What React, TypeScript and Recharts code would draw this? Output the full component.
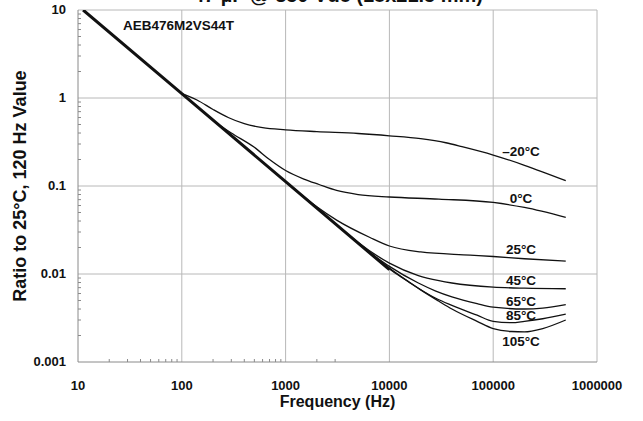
import { LineChart, Line, XAxis, YAxis, ReferenceLine } from 'recharts';

// Impedance ratio vs frequency, AEB476M2VS44T
const xMajor = [10, 100, 1000, 10000, 100000, 1000000];
const xMinor = [20, 30, 40, 50, 60, 70, 80, 90, 200, 300, 400, 500, 600, 700, 800, 900, 2000, 3000];
const yMajor = [0.001, 0.01, 0.1, 1, 10];
const yMinor = [
  0.002, 0.003, 0.004, 0.005, 0.006, 0.007, 0.008, 0.009,
  0.02, 0.03, 0.04, 0.05, 0.06, 0.07, 0.08, 0.09,
  0.2, 0.3, 0.4, 0.5, 0.6, 0.7, 0.8, 0.9,
  2, 3, 4, 5, 6, 7, 8, 9,
];

// shared low-frequency slope (all temperatures overlap here)
const common = [[11.2, 10], [100, 1.12], [1000, 0.112], [10000, 0.0112]];

const tM20 = [[100, 1.12], [140, 0.95], [200, 0.74], [280, 0.6], [400, 0.51], [600, 0.46], [1000, 0.435], [2000, 0.415], [5000, 0.395], [10000, 0.372], [20000, 0.345], [35000, 0.31], [50000, 0.28], [100000, 0.225], [200000, 0.172], [500000, 0.115]];
const t0 = [[210, 0.53], [300, 0.4], [500, 0.275], [700, 0.2], [1000, 0.15], [1500, 0.12], [2100, 0.104], [3100, 0.089], [5000, 0.08], [10000, 0.075], [30000, 0.071], [100000, 0.065], [200000, 0.057], [500000, 0.044]];
const t25 = [[1200, 0.094], [2000, 0.058], [3100, 0.041], [6500, 0.026], [10000, 0.0208], [20000, 0.0178], [60000, 0.0164], [100000, 0.0158], [200000, 0.0149], [500000, 0.014]];
const t45 = [[3500, 0.032], [5000, 0.0228], [10000, 0.0133], [19000, 0.0096], [30000, 0.0084], [40000, 0.0079], [100000, 0.0071], [200000, 0.0069], [500000, 0.0068]];
const t65 = [[6000, 0.0188], [10000, 0.0122], [19000, 0.0079], [28000, 0.0064], [40000, 0.0055], [70000, 0.0046], [100000, 0.0042], [200000, 0.004], [300000, 0.0041], [500000, 0.0045]];
const t85 = [[7000, 0.016], [10000, 0.0117], [19000, 0.0069], [28000, 0.0053], [40000, 0.0044], [70000, 0.0034], [100000, 0.0029], [150000, 0.0028], [200000, 0.0029], [300000, 0.0031], [500000, 0.0035]];
const t105 = [[8000, 0.014], [10000, 0.0114], [15000, 0.0083], [20000, 0.0066], [30000, 0.0049], [40000, 0.0040], [70000, 0.0029], [100000, 0.0024], [150000, 0.00222], [200000, 0.0022], [300000, 0.0024], [500000, 0.003]];

const series = [tM20, t0, t25, t45, t65, t85, t105];
const curveLabels = ['–20°C', '0°C', '25°C', '45°C', '65°C', '85°C', '105°C'];
const labelTops = [144, 191, 242, 273, 294, 308, 334];

const toRows = (pts: number[][]) => pts.map(([f, v]) => ({ f, v }));

const font = 'Arial, "Liberation Sans", Helvetica, sans-serif';
const gridColor = '#b8b8b8';
const axisColor = '#8a8a8a';

const majorSet = new Set(xMajor);
const yMajorSet = new Set(yMajor);

function XTick(props: any) {
  const { x, y, payload } = props;
  if (!majorSet.has(payload.value)) {
    return <line x1={x} x2={x} y1={y} y2={y - 3} stroke={axisColor} />;
  }
  return (
    <text x={x} y={y + 28} textAnchor="middle" fontSize={13} fontWeight="bold" fontFamily={font} fill="#111">
      {String(payload.value)}
    </text>
  );
}

function YTick(props: any) {
  const { x, y, payload } = props;
  if (!yMajorSet.has(payload.value)) {
    return <line x1={x} x2={x + 3} y1={y} y2={y} stroke={axisColor} />;
  }
  return (
    <text x={x - 12} y={y + 4} textAnchor="end" fontSize={13} fontWeight="bold" fontFamily={font} fill="#111">
      {String(payload.value)}
    </text>
  );
}

export default function App() {
  return (
    <div style={{ position: 'absolute', left: 0, top: 0, width: 643, height: 421, background: '#fff', overflow: 'hidden', fontFamily: font }}>
      <div style={{ position: 'absolute', left: 0, width: 676, top: -16, textAlign: 'center', fontSize: 20, fontWeight: 'bold', color: '#111' }}>
        47 µF @ 350 Vdc (18x21.5 mm)
      </div>
      <LineChart width={643} height={421} margin={{ top: 10, right: 46, bottom: 0, left: 0 }}>
        <XAxis
          dataKey="f"
          type="number"
          scale="log"
          domain={[10, 1000000]}
          allowDataOverflow
          ticks={[...xMajor, ...xMinor]}
          interval={0}
          tickSize={0}
          tickMargin={0}
          tick={<XTick />}
          tickLine={false}
          axisLine={{ stroke: axisColor }}
          height={59}
        />
        <YAxis
          type="number"
          scale="log"
          domain={[0.001, 10]}
          allowDataOverflow
          ticks={[...yMajor, ...yMinor]}
          interval={0}
          tickSize={0}
          tickMargin={0}
          tick={<YTick />}
          tickLine={false}
          axisLine={{ stroke: axisColor }}
          width={78}
        />
        {xMajor.slice(1).map((v) => (
          <ReferenceLine key={'gx' + v} x={v} stroke={gridColor} strokeWidth={1} />
        ))}
        {yMajor.slice(1).map((v) => (
          <ReferenceLine key={'gy' + v} y={v} stroke={gridColor} strokeWidth={1} />
        ))}
        <Line data={toRows(common)} dataKey="v" type="linear" stroke="#111" strokeWidth={3} dot={false} isAnimationActive={false} />
        {series.map((s, i) => (
          <Line
            key={curveLabels[i]}
            data={toRows(s)}
            dataKey="v"
            type="monotone"
            stroke="#111"
            strokeWidth={1.3}
            dot={false}
            isAnimationActive={false}
          />
        ))}
      </LineChart>
      <div style={{ position: 'absolute', left: 123, top: 18, fontSize: 13.5, fontWeight: 'bold', color: '#111' }}>
        AEB476M2VS44T
      </div>
      {curveLabels.map((t, i) => (
        <div key={t} style={{ position: 'absolute', left: 481, width: 80, top: labelTops[i], textAlign: 'center', fontSize: 13.5, fontWeight: 'bold', color: '#111' }}>
          {t}
        </div>
      ))}
      <div style={{ position: 'absolute', left: 78, width: 519, top: 393, textAlign: 'center', fontSize: 16, fontWeight: 'bold', color: '#111' }}>
        Frequency (Hz)
      </div>
      <div
        style={{
          position: 'absolute',
          left: 20,
          top: 186,
          transform: 'translate(-50%, -50%) rotate(-90deg)',
          whiteSpace: 'nowrap',
          fontSize: 18,
          fontWeight: 'bold',
          color: '#111',
        }}
      >
        Ratio to 25°C, 120 Hz Value
      </div>
    </div>
  );
}
